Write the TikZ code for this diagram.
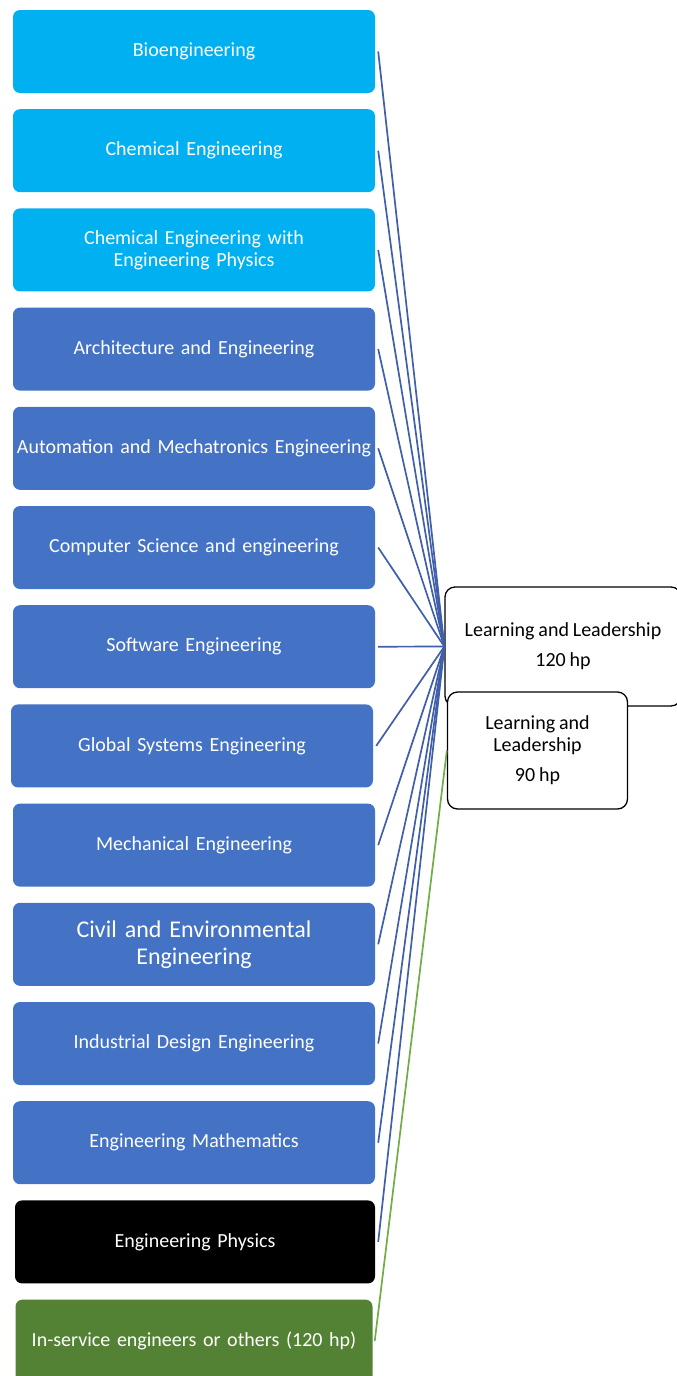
\documentclass[tikz,border=0pt]{standalone}
\usepackage{fontspec}
\setmainfont[WordSpace={0.85,0.5,0.5}]{Carlito}
\usetikzlibrary{positioning}

\definecolor{progcyan}{RGB}{0,176,240}
\definecolor{progblue}{RGB}{68,114,196}
\definecolor{proggreen}{RGB}{84,130,53}
\definecolor{linkblue}{RGB}{63,95,170}
\definecolor{linkgreen}{RGB}{112,173,71}

\tikzset{
  prog/.style={rounded corners=7pt, minimum width=362pt, minimum height=83pt,
    text width=356pt, align=center, text=white, font=\fontsize{20}{22}\selectfont,
    inner sep=0pt},
  course/.style={draw=black, line width=1.3pt, fill=white, rounded corners=10pt,
    align=center, font=\fontsize{20}{22}\selectfont, inner sep=0pt},
  link/.style={linkblue, line width=1.7pt},
}

\begin{document}
\begin{tikzpicture}[x=1pt, y=1pt, node distance=15.8pt]
\useasboundingbox (0,0) rectangle (677,-1376);

\node[prog, fill=progcyan] (bio) at (194,-51.5) {Bioengineering};
\node[prog, fill=progcyan, below=of bio] (chem) {Chemical Engineering};
\node[prog, fill=progcyan, below=of chem] (chemphys) {Chemical Engineering with\\Engineering Physics};
\node[prog, fill=progblue, below=of chemphys] (arch) {Architecture and Engineering};
\node[prog, fill=progblue, below=of arch] (autom) {Automation and Mechatronics Engineering};
\node[prog, fill=progblue, below=of autom] (comp) {Computer Science and engineering};
\node[prog, fill=progblue, below=of comp] (soft) {Software Engineering};
\node[prog, fill=progblue, below=of soft, xshift=-2pt] (glob) {Global Systems Engineering};
\node[prog, fill=progblue, below=of glob, xshift=2pt] (mech) {Mechanical Engineering};
\node[prog, fill=progblue, below=of mech, font=\fontsize{24}{27}\selectfont] (civil) {Civil and Environmental\\Engineering};
\node[prog, fill=progblue, below=of civil] (indus) {Industrial Design Engineering};
\node[prog, fill=progblue, below=of indus] (math) {Engineering Mathematics};
\node[prog, fill=black, below=of math, xshift=1pt, minimum width=360pt] (phys) {Engineering Physics};
\node[prog, fill=proggreen, below=of phys, xshift=-1pt, minimum width=357pt] (inserv) {In-service engineers or others (120 hp)};

% courses
\node[course, minimum width=236pt, minimum height=119pt] (lead120) at (563,-646.5)
  {Learning and Leadership\\[8pt]120 hp};
\node[course, minimum width=180pt, minimum height=117pt] (lead90) at (537.5,-750.5)
  {Learning and\\Leadership\\[8pt]90 hp};

% links to the 120 hp course
\foreach \p in {bio,chem,chemphys,arch,autom,comp,soft,glob,mech,civil,indus,math,phys}
  \draw[link] ([xshift=3pt]\p.east) -- (lead120.west);
\draw[linkgreen, line width=1.7pt] ([xshift=2pt]inserv.east) -- (lead90.west);
\end{tikzpicture}
\end{document}
